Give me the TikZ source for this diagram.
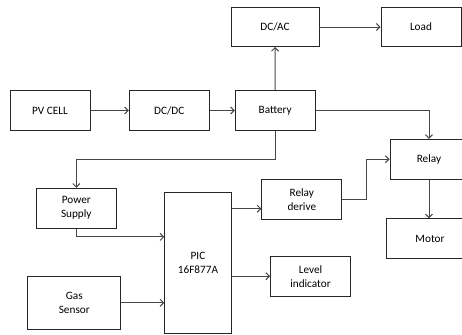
\documentclass[tikz,border=0pt]{standalone}
\usepackage{fontspec}
\setmainfont{Carlito}
\usetikzlibrary{arrows.meta,calc}
\definecolor{edge}{RGB}{70,70,70}

\begin{document}
\begin{tikzpicture}[x=0.025cm, y=-0.025cm,
  blk/.style={draw=black!85, line width=0.6pt, minimum width=2cm, minimum height=1cm,
              inner sep=1pt, align=center, font=\fontsize{8}{10}\selectfont},
  arr/.style={draw=edge, line width=0.7pt, -{Straight Barb[length=2.5pt,width=5pt]}},
]
\useasboundingbox (0,0) rectangle (462,335);
\clip (0,0) rectangle (462,335);

\node[blk, minimum width=2.2cm, minimum height=0.98cm] (dcac) at (275,27) {DC/AC};
\node[blk, minimum height=0.98cm] (load) at (421,27) {Load};
\node[blk] (pv) at (50,110.5) {PV CELL};
\node[blk] (dcdc) at (169.3,110.5) {DC/DC};
\node[blk] (bat) at (275.2,110.5) {Battery};
\node[blk, minimum width=1.95cm] (relay) at (429,159.3) {Relay};
\node[blk] (psu) at (76.3,208.2) {Power\\Supply};
\node[blk, minimum width=1.665cm, minimum height=3.53cm] (pic) at (198,263.3) {PIC\\16F877A};
\node[blk] (rdrv) at (301.8,199.3) {Relay\\derive};
\node[blk, minimum width=2.2cm] (motor) at (430,238.8) {Motor};
\node[blk] (level) at (310.5,276.2) {Level\\indicator};
\node[blk, minimum width=2.32cm, minimum height=1.33cm] (gas) at (74.3,302.8) {Gas\\Sensor};

% power path
\draw[arr] (pv) -- (dcdc);
\draw[arr] (dcdc) -- (bat);
\draw[arr] (bat) -- (dcac);
\draw[arr] (dcac) -- (load);
\draw[arr] (bat.east) -| (relay.north);
\draw[arr] (bat.south) -- ++(0,29) -| (psu.north);

% controller
\coordinate (rin) at ([yshift=-0.235cm]rdrv.west);
\draw[arr] (psu.south) |- ([yshift=0.66cm]pic.west);
\draw[arr] (gas.east) -- (gas.east -| pic.west);
\draw[arr] (rin -| pic.east) -- (rin);
\draw[arr] (pic.east |- level.west) -- (level.west);
\draw[arr] (rdrv.east) -- ++(24.3,0) |- (relay.west);
\draw[arr] (relay.south) -- (relay.south |- motor.north);
\end{tikzpicture}
\end{document}
